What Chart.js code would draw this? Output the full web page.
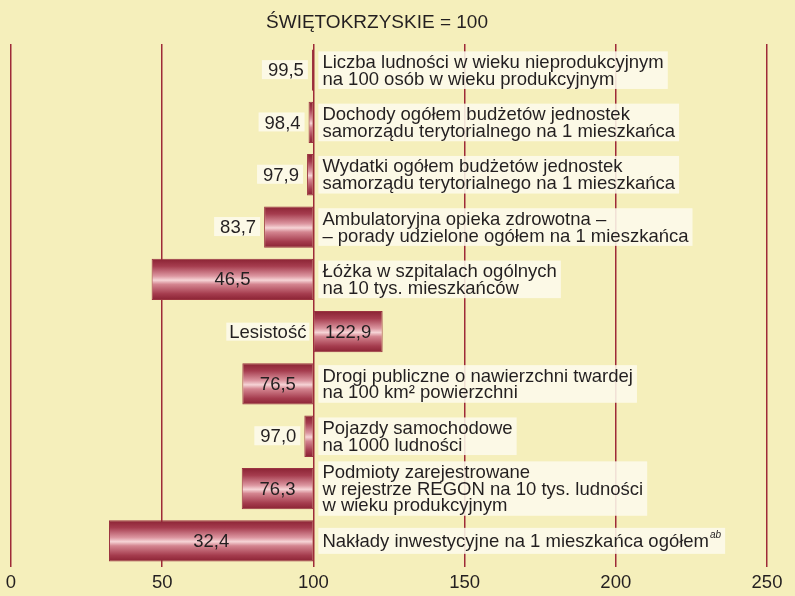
<!DOCTYPE html>
<html lang="pl">
<head>
<meta charset="utf-8">
<script src="https://cdn.jsdelivr.net/npm/chart.js@4/dist/chart.umd.min.js"></script>
<style>
  body { margin: 0; background: #f5efbb; }
  canvas { display: block; }
</style>
</head>
<body>
<canvas id="chart" width="795" height="596"></canvas>
<script>
/* ŚWIĘTOKRZYSKIE = 100 - horizontal bars around the base value */

const TITLE = 'ŚWIĘTOKRZYSKIE = 100';
const BASE = 100;

const values = [99.5, 98.4, 97.9, 83.7, 46.5, 122.9, 76.5, 97.0, 76.3, 32.4];
const descriptions = [
  ['Liczba ludności w wieku nieprodukcyjnym', 'na 100 osób w wieku produkcyjnym'],
  ['Dochody ogółem budżetów jednostek', 'samorządu terytorialnego na 1 mieszkańca'],
  ['Wydatki ogółem budżetów jednostek', 'samorządu terytorialnego na 1 mieszkańca'],
  ['Ambulatoryjna opieka zdrowotna –', '– porady udzielone ogółem na 1 mieszkańca'],
  ['Łóżka w szpitalach ogólnych', 'na 10 tys. mieszkańców'],
  ['Lesistość'],
  ['Drogi publiczne o nawierzchni twardej', 'na 100 km² powierzchni'],
  ['Pojazdy samochodowe', 'na 1000 ludności'],
  ['Podmioty zarejestrowane', 'w rejestrze REGON na 10 tys. ludności', 'w wieku produkcyjnym'],
  ['Nakłady inwestycyjne na 1 mieszkańca ogółem']
];
const footnotes = ['', '', '', '', '', '', '', '', '', 'ab'];
const xTicks = [0, 50, 100, 150, 200, 250];

const FONT_FAMILY = "'Liberation Sans', Arial, sans-serif";
const FONT = '18.5px ' + FONT_FAMILY;
const TEXT_COLOR = '#231f20';
const BOX_COLOR = 'rgba(253, 250, 236, 0.88)';
const GRID_COLOR = '#9e2a38';
const BAR_PCT = 0.79;

function fmt(v) { return v.toFixed(1).replace('.', ','); }

// pionowy gradient "walca" dla każdego słupka
function barFill(c) {
  const chart = c.chart;
  const area = chart.chartArea;
  if (!area || c.type !== 'data') return '#a83a4c';
  const yc = chart.scales.y.getPixelForValue(c.dataIndex);
  const half = (area.height / values.length) * BAR_PCT / 2;
  const g = chart.ctx.createLinearGradient(0, yc - half, 0, yc + half);
  g.addColorStop(0, '#8a2233');
  g.addColorStop(0.18, '#a53c4e');
  g.addColorStop(0.42, '#dc96a0');
  g.addColorStop(0.52, '#f6d4d6');
  g.addColorStop(0.62, '#d48590');
  g.addColorStop(0.85, '#a53c4e');
  g.addColorStop(1, '#8a2233');
  return g;
}

function drawBox(ctx, x, y, w, h) {
  ctx.fillStyle = BOX_COLOR;
  ctx.fillRect(x, y, w, h);
}

const titlePlugin = {
  id: 'topTitle',
  afterDraw(chart) {
    const ctx = chart.ctx;
    ctx.save();
    ctx.font = '19px ' + FONT_FAMILY;
    ctx.fillStyle = TEXT_COLOR;
    ctx.textAlign = 'center';
    ctx.textBaseline = 'alphabetic';
    ctx.fillText(TITLE, 377, 28);
    ctx.restore();
  }
};

const labelsPlugin = {
  id: 'barLabels',
  afterDatasetsDraw(chart) {
    const { ctx, scales: { x } } = chart;
    const meta = chart.getDatasetMeta(0);
    const x0 = x.getPixelForValue(BASE);
    const lh = 16.8;
    ctx.save();
    ctx.font = FONT;
    ctx.textBaseline = 'middle';

    values.forEach((v, i) => {
      const yc = meta.data[i].y;
      const xv = x.getPixelForValue(v);
      const lines = descriptions[i];

      // opis
      if (v <= BASE) {
        const note = footnotes[i];
        ctx.font = FONT;
        let w = Math.max(...lines.map(l => ctx.measureText(l).width));
        let noteW = 0;
        if (note) {
          ctx.font = 'italic 10px ' + FONT_FAMILY;
          noteW = ctx.measureText(note).width + 1;
          ctx.font = FONT;
          const lastW = ctx.measureText(lines[lines.length - 1]).width + noteW;
          w = Math.max(w, lastW);
        }
        const bh = Math.max(lines.length * lh + 4, 26);
        const bx = x0 + 5;
        drawBox(ctx, bx, yc - bh / 2, w + 8, bh);
        ctx.fillStyle = TEXT_COLOR;
        ctx.textAlign = 'left';
        const top = yc - (lines.length - 1) * lh / 2;
        lines.forEach((l, k) => ctx.fillText(l, bx + 4, top + k * lh + 1));
        if (note) {
          const lastY = top + (lines.length - 1) * lh;
          const lx = bx + 4 + ctx.measureText(lines[lines.length - 1]).width + 1;
          ctx.font = 'italic 10px ' + FONT_FAMILY;
          ctx.fillText(note, lx, lastY - 6);
          ctx.font = FONT;
        }
      } else {
        const l = lines[0];
        const w = ctx.measureText(l).width;
        const right = x0 - 4;
        drawBox(ctx, right - w - 6, yc - 9, w + 6, 18);
        ctx.fillStyle = TEXT_COLOR;
        ctx.textAlign = 'right';
        ctx.fillText(l, right - 3, yc + 1);
      }

      // wartość
      const label = fmt(v);
      ctx.fillStyle = TEXT_COLOR;
      if (Math.abs(BASE - v) >= 20) {
        ctx.textAlign = 'center';
        ctx.fillText(label, (xv + x0) / 2, yc + 1);
      } else {
        const w = ctx.measureText(label).width;
        const right = xv - 4;
        drawBox(ctx, right - w - 10, yc - 10, w + 10, 19);
        ctx.fillStyle = TEXT_COLOR;
        ctx.textAlign = 'right';
        ctx.fillText(label, right - 4, yc + 1);
      }
    });
    ctx.restore();
  }
};

new Chart(document.getElementById('chart'), {
  type: 'bar',
  data: {
    labels: descriptions.map(d => d.join(' ')),
    datasets: [{
      data: values.map(v => [v, BASE]),
      backgroundColor: barFill,
      borderColor: '#9a3440',
      borderWidth: 1,
      borderSkipped: false,
      barPercentage: BAR_PCT,
      categoryPercentage: 1
    }]
  },
  options: {
    indexAxis: 'y',
    responsive: false,
    animation: false,
    layout: { padding: { top: 44, left: 11, right: 28, bottom: 0 } },
    plugins: { legend: { display: false }, tooltip: { enabled: false } },
    scales: {
      x: {
        min: 0,
        max: 250,
        afterBuildTicks(axis) { axis.ticks = xTicks.map(v => ({ value: v })); },
        afterFit(axis) { axis.height = 29; },
        grid: { color: GRID_COLOR, lineWidth: 1.5, drawTicks: false },
        border: { display: false },
        ticks: {
          color: TEXT_COLOR,
          padding: 5,
          font: { family: FONT_FAMILY, size: 18.5 }
        }
      },
      y: { display: false }
    }
  },
  plugins: [labelsPlugin, titlePlugin]
});
</script>
</body>
</html>
